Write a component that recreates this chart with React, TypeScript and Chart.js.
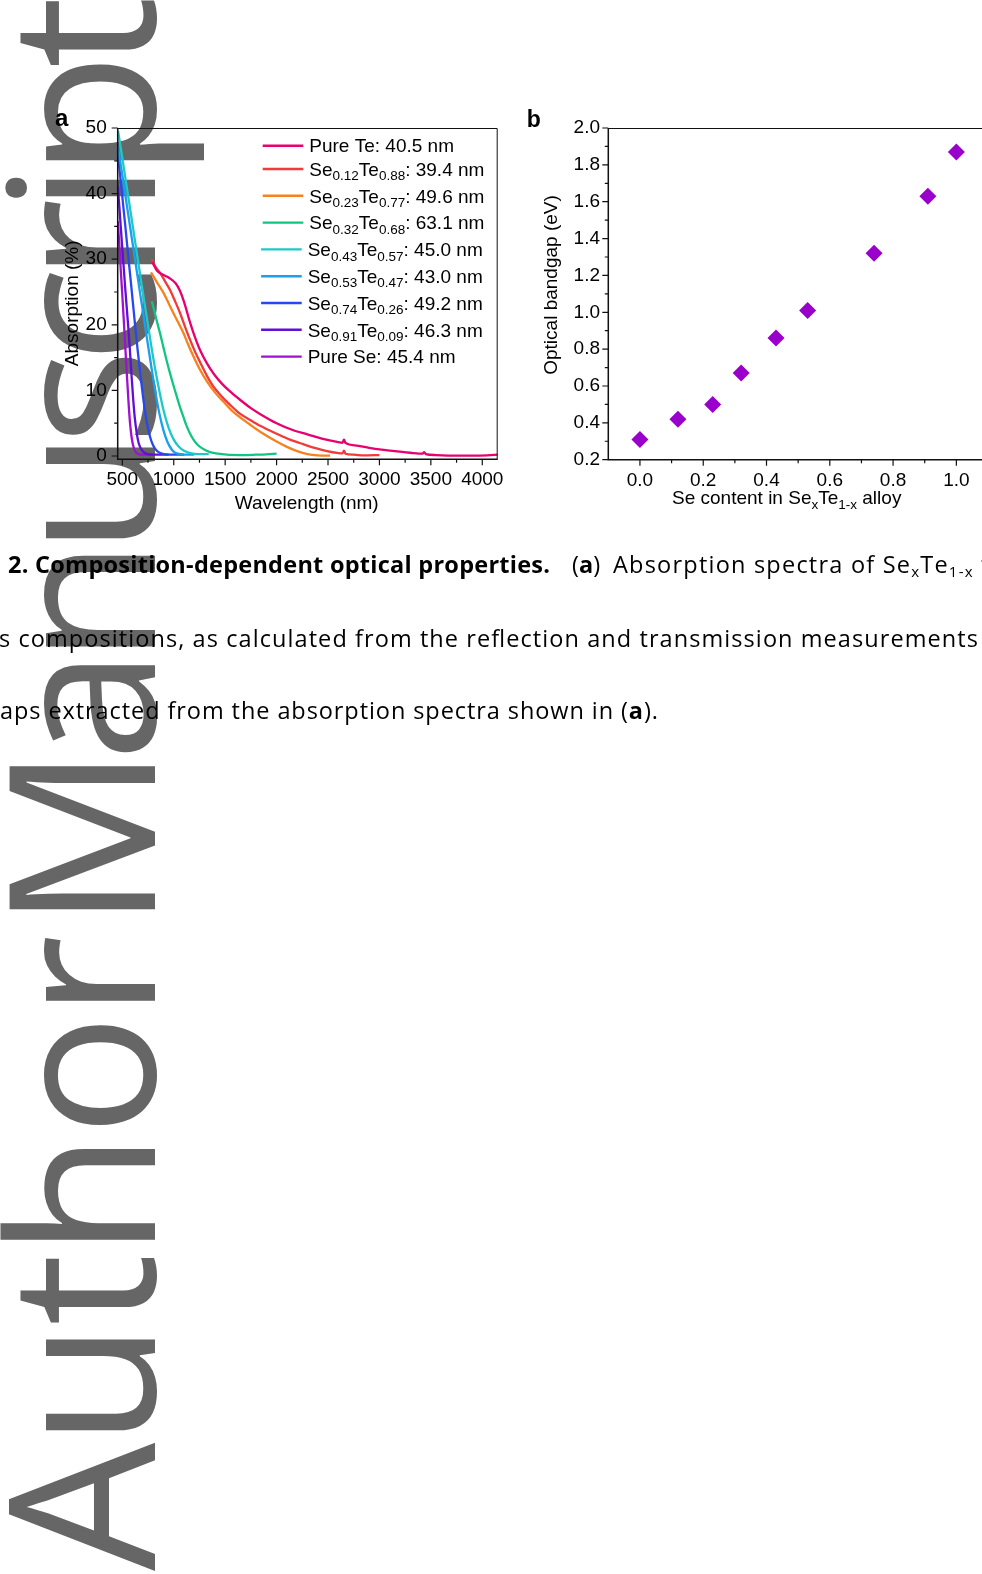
import React, { useEffect, useRef } from 'react';
import { Chart, registerables } from 'chart.js';

Chart.register(...registerables);

type Pt = [number, number];

// ---------------- Panel a: absorption spectra (wavelength nm, absorption %)
const PURE_TE: Pt[] = [
  [790, 29.6], [840, 28.2], [900, 27.6], [960, 27.1], [1020, 26.3], [1060, 25.2], [1100, 23.5],
  [1150, 20.8], [1200, 18.4], [1260, 16.0], [1320, 14.2], [1390, 12.5], [1470, 11.0], [1550, 9.8],
  [1650, 8.5], [1750, 7.3], [1850, 6.3], [2000, 5.0], [2150, 4.0], [2300, 3.3], [2450, 2.6],
  [2600, 2.1], [2640, 2.0], [2655, 2.5], [2670, 2.0], [2780, 1.6], [2900, 1.25], [3000, 1.0],
  [3150, 0.75], [3300, 0.5], [3420, 0.35], [3435, 0.6], [3450, 0.3], [3550, 0.15], [3700, 0.05],
  [3900, 0.05], [4050, 0.1], [4150, 0.2],
];
const SE012_TE088: Pt[] = [
  [786, 30.0], [820, 28.9], [867, 27.9], [920, 26.5], [964, 25.3], [1010, 23.7], [1061, 21.8],
  [1110, 19.7], [1159, 17.7], [1210, 15.8], [1256, 14.3], [1320, 12.3], [1385, 10.6], [1460, 9.2],
  [1548, 7.8], [1640, 6.5], [1742, 5.5], [1840, 4.6], [2000, 3.4], [2130, 2.5], [2260, 1.8],
  [2380, 1.2], [2490, 0.75], [2600, 0.45], [2640, 0.4], [2655, 0.8], [2670, 0.35], [2750, 0.2],
  [2850, 0.1], [3000, 0.15],
];
const SE023_TE077: Pt[] = [
  [779, 28.0], [840, 26.4], [899, 24.9], [950, 23.3], [996, 21.8], [1045, 20.3], [1093, 18.8],
  [1140, 17.0], [1191, 15.2], [1250, 13.3], [1321, 11.4], [1400, 9.7], [1483, 8.3], [1560, 7.0],
  [1645, 5.9], [1740, 4.8], [1840, 3.7], [2000, 2.2], [2100, 1.4], [2200, 0.75], [2300, 0.3],
  [2400, 0.1], [2520, 0.05],
];
const SE032_TE068: Pt[] = [
  [786, 23.6], [810, 22.2], [835, 20.6], [870, 18.5], [899, 16.6], [930, 14.6], [964, 12.6],
  [1000, 10.6], [1029, 9.1], [1060, 7.5], [1093, 6.0], [1125, 4.6], [1159, 3.4], [1200, 2.3],
  [1239, 1.6], [1300, 0.95], [1353, 0.6], [1430, 0.35], [1516, 0.2], [1650, 0.15], [1800, 0.2],
  [1900, 0.25], [2000, 0.35],
];
const SE043_TE057: Pt[] = [
  [458, 49.6], [500, 45.4], [550, 40.3], [600, 35.2], [650, 30.0], [700, 24.9], [750, 19.9],
  [800, 15.0], [850, 10.7], [900, 7.0], [950, 4.3], [1000, 2.5], [1050, 1.4], [1100, 0.8],
  [1159, 0.45], [1250, 0.3], [1340, 0.3],
];
const SE053_TE047: Pt[] = [
  [456, 47.3], [500, 42.8], [550, 37.6], [600, 32.4], [650, 27.2], [700, 22.0], [740, 17.9],
  [780, 13.8], [820, 9.9], [860, 6.5], [900, 3.9], [940, 2.1], [980, 1.0], [1013, 0.5],
  [1060, 0.3], [1130, 0.2], [1200, 0.2],
];
const SE074_TE026: Pt[] = [
  [456, 46.3], [480, 42.5], [500, 39.5], [530, 34.9], [560, 30.1], [590, 25.4], [620, 20.6],
  [650, 16.0], [680, 11.8], [710, 8.0], [740, 5.0], [770, 2.9], [800, 1.6], [835, 0.8],
  [870, 0.45], [920, 0.25], [1000, 0.2], [1100, 0.2],
];
const SE091_TE009: Pt[] = [
  [456, 41.1], [470, 38.2], [485, 34.9], [500, 31.6], [515, 28.4], [530, 25.2], [545, 22.2],
  [560, 19.2], [575, 15.8], [590, 12.2], [605, 8.8], [620, 6.0], [640, 3.5], [660, 1.9],
  [690, 0.9], [720, 0.45], [760, 0.25], [850, 0.2], [950, 0.2],
];
const PURE_SE: Pt[] = [
  [456, 35.8], [470, 32.3], [485, 28.3], [500, 24.5], [515, 20.5], [530, 16.3], [545, 12.2],
  [560, 8.3], [575, 5.0], [590, 2.9], [605, 1.6], [620, 0.9], [640, 0.45], [670, 0.25],
  [720, 0.2], [800, 0.2],
];

const SPECTRA: Pt[][] = [
  PURE_TE, SE012_TE088, SE023_TE077, SE032_TE068, SE043_TE057,
  SE053_TE047, SE074_TE026, SE091_TE009, PURE_SE,
];
const SPECTRA_COLORS = [
  '#E8006F', '#F23A3A', '#F5821F', '#12C581', '#1FC8C8',
  '#179FF0', '#2747F2', '#5E10D8', '#A010D0',
];
// label parts alternate: normal, subscript, normal, subscript, normal
const LEGEND_LABELS: string[][] = [
  ['Pure Te: 40.5 nm'],
  ['Se', '0.12', 'Te', '0.88', ': 39.4 nm'],
  ['Se', '0.23', 'Te', '0.77', ': 49.6 nm'],
  ['Se', '0.32', 'Te', '0.68', ': 63.1 nm'],
  ['Se', '0.43', 'Te', '0.57', ': 45.0 nm'],
  ['Se', '0.53', 'Te', '0.47', ': 43.0 nm'],
  ['Se', '0.74', 'Te', '0.26', ': 49.2 nm'],
  ['Se', '0.91', 'Te', '0.09', ': 46.3 nm'],
  ['Pure Se: 45.4 nm'],
];
const WL_TICKS = [500, 1000, 1500, 2000, 2500, 3000, 3500, 4000];
const WL_MINOR = [750, 1250, 1750, 2250, 2750, 3250, 3750];
const ABS_TICKS = [0, 10, 20, 30, 40, 50];
const ABS_MINOR = [5, 15, 25, 35, 45];

// ---------------- Panel b: optical bandgap vs Se content
const SE_CONTENT = [0, 0.12, 0.23, 0.32, 0.43, 0.53, 0.74, 0.91, 1.0];
const BANDGAP = [0.31, 0.42, 0.5, 0.67, 0.86, 1.01, 1.32, 1.63, 1.87];
const SE_TICKS = [0, 0.2, 0.4, 0.6, 0.8, 1.0];
const SE_MINOR = [0.1, 0.3, 0.5, 0.7, 0.9];
const GAP_TICKS = [0.2, 0.4, 0.6, 0.8, 1.0, 1.2, 1.4, 1.6, 1.8, 2.0];
const GAP_MINOR = [0.3, 0.5, 0.7, 0.9, 1.1, 1.3, 1.5, 1.7, 1.9];
const B_X_TITLE = ['Se content in Se', 'x', 'Te', '1-x', ' alloy'];

const AX_FAMILY = '"Liberation Sans", Arial, Helvetica, sans-serif';
const AX_SIZE = 19;
const MAIN_FONT = `${AX_SIZE}px ${AX_FAMILY}`;
const SUB_FONT = `13.5px ${AX_FAMILY}`;

function measureRich(ctx: CanvasRenderingContext2D, parts: string[]) {
  let w = 0;
  parts.forEach((p, i) => {
    ctx.font = i % 2 === 1 ? SUB_FONT : MAIN_FONT;
    w += ctx.measureText(p).width;
  });
  return w;
}

function drawRich(ctx: CanvasRenderingContext2D, parts: string[], x: number, y: number) {
  let cx = x;
  parts.forEach((p, i) => {
    const sub = i % 2 === 1;
    ctx.font = sub ? SUB_FONT : MAIN_FONT;
    ctx.fillText(p, cx, y + (sub ? 4.5 : 0));
    cx += ctx.measureText(p).width;
  });
}

function drawFrame(
  chart: any,
  xMaj: number[], xMin: number[], yMaj: number[], yMin: number[],
) {
  const ctx: CanvasRenderingContext2D = chart.ctx;
  const { left, right, top, bottom } = chart.chartArea;
  const xs = chart.scales.x;
  const ys = chart.scales.y;
  ctx.save();
  ctx.strokeStyle = '#111';
  ctx.lineWidth = 1;
  ctx.beginPath();
  ctx.moveTo(left, top + 0.5);
  ctx.lineTo(right - 0.5, top + 0.5);
  ctx.lineTo(right - 0.5, bottom);
  ctx.stroke();
  ctx.lineWidth = 1.5;
  ctx.beginPath();
  ctx.moveTo(left, top);
  ctx.lineTo(left, bottom);
  ctx.lineTo(right, bottom);
  ctx.stroke();
  ctx.lineWidth = 1.2;
  ctx.beginPath();
  xMaj.forEach((v) => { const p = xs.getPixelForValue(v); ctx.moveTo(p, bottom); ctx.lineTo(p, bottom + 6); });
  xMin.forEach((v) => { const p = xs.getPixelForValue(v); ctx.moveTo(p, bottom); ctx.lineTo(p, bottom + 3.5); });
  yMaj.forEach((v) => { const p = ys.getPixelForValue(v); ctx.moveTo(left, p); ctx.lineTo(left - 6, p); });
  yMin.forEach((v) => { const p = ys.getPixelForValue(v); ctx.moveTo(left, p); ctx.lineTo(left - 3.5, p); });
  ctx.stroke();
  ctx.restore();
}

const panelAPlugin = {
  id: 'panelA',
  afterDraw(chart: any) {
    const ctx: CanvasRenderingContext2D = chart.ctx;
    drawFrame(chart, WL_TICKS, WL_MINOR, ABS_TICKS, ABS_MINOR);
    ctx.save();
    ctx.fillStyle = '#000';
    ctx.textBaseline = 'alphabetic';
    ctx.textAlign = 'left';
    let rowY = 45.7;
    LEGEND_LABELS.forEach((parts, i) => {
      if (i === 1) rowY += 23.3;
      else if (i > 1) rowY += 26.8;
      const shift = i >= 4 ? -1.6 : 0;
      ctx.strokeStyle = SPECTRA_COLORS[i];
      ctx.lineWidth = 2.4;
      ctx.beginPath();
      ctx.moveTo(262.7 + shift, rowY);
      ctx.lineTo(303.3 + shift, rowY);
      ctx.stroke();
      drawRich(ctx, parts, 309.3 + shift, rowY + 6.7);
    });
    // axis titles
    ctx.font = MAIN_FONT;
    ctx.textAlign = 'center';
    ctx.fillText('Wavelength (nm)', 306.7, 408.5);
    ctx.save();
    ctx.translate(78.3, 203.3);
    ctx.rotate(-Math.PI / 2);
    ctx.fillText('Absorption (%)', 0, 0);
    ctx.restore();
    // panel letter
    ctx.textAlign = 'left';
    ctx.font = `bold 24px ${AX_FAMILY}`;
    ctx.fillText('a', 55, 26);
    ctx.restore();
  },
};

const panelBPlugin = {
  id: 'panelB',
  afterDraw(chart: any) {
    const ctx: CanvasRenderingContext2D = chart.ctx;
    drawFrame(chart, SE_TICKS, SE_MINOR, GAP_TICKS, GAP_MINOR);
    ctx.save();
    ctx.fillStyle = '#000';
    ctx.textBaseline = 'alphabetic';
    const w = measureRich(ctx, B_X_TITLE);
    ctx.textAlign = 'left';
    drawRich(ctx, B_X_TITLE, 286.7 - w / 2, 404.3);
    ctx.font = MAIN_FONT;
    ctx.textAlign = 'center';
    ctx.save();
    ctx.translate(57.3, 185);
    ctx.rotate(-Math.PI / 2);
    ctx.fillText('Optical bandgap (eV)', 0, 0);
    ctx.restore();
    ctx.textAlign = 'left';
    ctx.font = `bold 23px ${AX_FAMILY}`;
    ctx.fillText('b', 26.7, 26.7);
    ctx.restore();
  },
};

const tickFont = { family: AX_FAMILY, size: AX_SIZE };

function configA(): any {
  return {
    type: 'scatter',
    data: {
      datasets: SPECTRA.map((pts, i) => ({
        data: pts.map(([x, y]) => ({ x, y })),
        showLine: true,
        borderColor: SPECTRA_COLORS[i],
        backgroundColor: SPECTRA_COLORS[i],
        borderWidth: 2.3,
        pointRadius: 0,
        cubicInterpolationMode: 'monotone',
      })),
    },
    options: {
      responsive: false,
      animation: false,
      events: [],
      layout: { padding: { left: 0, top: 28, right: 22.3, bottom: 0 } },
      plugins: { legend: { display: false }, tooltip: { enabled: false } },
      scales: {
        x: {
          type: 'linear', min: 455, max: 4150,
          grid: { display: false, drawTicks: false }, border: { display: false },
          afterBuildTicks: (s: any) => { s.ticks = WL_TICKS.map((v) => ({ value: v })); },
          afterFit: (s: any) => { s.height = 70.7; },
          ticks: { color: '#000', font: tickFont, padding: 9.4, maxRotation: 0, autoSkip: false, callback: (v: any) => String(v) },
        },
        y: {
          type: 'linear', min: -0.5, max: 50,
          grid: { display: false, drawTicks: false }, border: { display: false },
          afterBuildTicks: (s: any) => { s.ticks = ABS_TICKS.map((v) => ({ value: v })); },
          afterFit: (s: any) => { s.width = 117.7; },
          ticks: { color: '#000', font: tickFont, padding: 11, autoSkip: false, callback: (v: any) => String(v) },
        },
      },
    },
    plugins: [panelAPlugin],
  };
}

function configB(): any {
  return {
    type: 'scatter',
    data: {
      datasets: [{
        data: SE_CONTENT.map((x, i) => ({ x, y: BANDGAP[i] })),
        pointStyle: 'rectRot',
        pointRadius: 8.5,
        backgroundColor: '#9A00CC',
        borderColor: '#9A00CC',
        borderWidth: 0,
      }],
    },
    options: {
      responsive: false,
      animation: false,
      events: [],
      layout: { padding: { left: 0, top: 28, right: 12, bottom: 0 } },
      plugins: { legend: { display: false }, tooltip: { enabled: false } },
      scales: {
        x: {
          type: 'linear', min: -0.1, max: 1.1,
          grid: { display: false, drawTicks: false }, border: { display: false },
          afterBuildTicks: (s: any) => { s.ticks = SE_TICKS.map((v) => ({ value: v })); },
          afterFit: (s: any) => { s.height = 70.3; },
          ticks: { color: '#000', font: tickFont, padding: 9.2, maxRotation: 0, autoSkip: false, callback: (v: any) => Number(v).toFixed(1) },
        },
        y: {
          type: 'linear', min: 0.2, max: 2.0,
          grid: { display: false, drawTicks: false }, border: { display: false },
          afterBuildTicks: (s: any) => { s.ticks = GAP_TICKS.map((v) => ({ value: v })); },
          afterFit: (s: any) => { s.width = 108.3; },
          ticks: { color: '#000', font: tickFont, padding: 8.3, autoSkip: false, callback: (v: any) => Number(v).toFixed(1) },
        },
      },
    },
    plugins: [panelBPlugin],
  };
}

const CAP_FAMILY = "'Open Sans', 'Noto Sans', sans-serif";
const CAP_SIZE = 23.5;
const CAP_SUB = 15;
const WM_FAMILY = "'Open Sans', 'Noto Sans', sans-serif";

export default function App() {
  const refA = useRef<HTMLCanvasElement>(null);
  const refB = useRef<HTMLCanvasElement>(null);

  useEffect(() => {
    const a = new Chart(refA.current as HTMLCanvasElement, configA());
    const b = new Chart(refB.current as HTMLCanvasElement, configB());
    return () => { a.destroy(); b.destroy(); };
  }, []);

  const cap = { fontFamily: CAP_FAMILY, fontSize: CAP_SIZE, fill: '#000', lengthAdjust: 'spacing' } as any;
  const wm = { fontFamily: WM_FAMILY, fontSize: 203, fill: '#666666', lengthAdjust: 'spacing' } as any;

  return (
    <div style={{ position: 'fixed', left: 0, top: 0, width: 982, height: 1574, overflow: 'hidden', background: '#fff' }}>
      <svg width={982} height={1574} style={{ position: 'absolute', left: 0, top: 0 }}>
        <text {...wm} transform="translate(155 1571) rotate(-90)" textLength={636}>Author</text>
        <text {...wm} transform="translate(155 929) rotate(-90)" textLength={933}>Manuscript</text>
      </svg>
      <canvas ref={refA} width={520} height={430} style={{ position: 'absolute', left: 0, top: 100, width: 520, height: 430 }} />
      <canvas ref={refB} width={500} height={430} style={{ position: 'absolute', left: 500, top: 100, width: 500, height: 430 }} />
      <svg width={982} height={1574} style={{ position: 'absolute', left: 0, top: 0, pointerEvents: 'none' }}>
        <text {...cap} x={8} y={573.3} fontWeight="bold" textLength={542}>
          2. Composition-dependent optical properties.
        </text>
        <text fontFamily={CAP_FAMILY} fontSize={CAP_SIZE} fill="#000" x={572} y={573.3}>
          <tspan>(</tspan>
          <tspan fontWeight="bold">a</tspan>
          <tspan>)</tspan>
        </text>
        <text {...cap} x={613} y={573.3} textLength={376}>
          <tspan>{'Absorption spectra of Se'}</tspan>
          <tspan fontSize={CAP_SUB} dy={4}>x</tspan>
          <tspan dy={-4}>Te</tspan>
          <tspan fontSize={CAP_SUB} dy={4}>1-x</tspan>
          <tspan dy={-4}>{' f'}</tspan>
        </text>
        <text {...cap} x={-1} y={646.7} textLength={979}>
          s compositions, as calculated from the reflection and transmission measurements
        </text>
        <text {...cap} x={0} y={718.5} textLength={658}>
          <tspan>{'aps extracted from the absorption spectra shown in ('}</tspan>
          <tspan fontWeight="bold">a</tspan>
          <tspan>{').'}</tspan>
        </text>
      </svg>
    </div>
  );
}
